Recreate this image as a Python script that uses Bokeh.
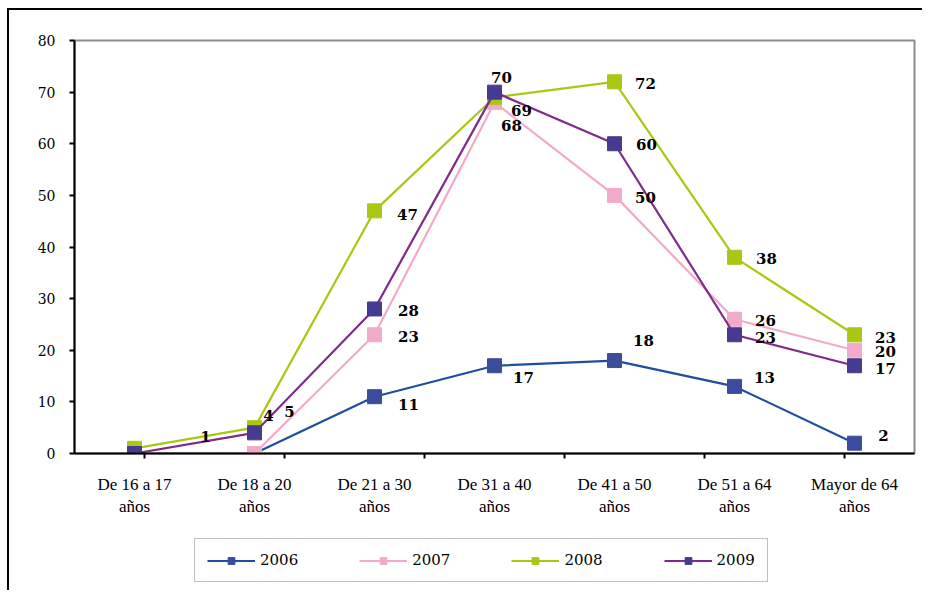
from bokeh.plotting import figure
from bokeh.models import (FactorRange, Range1d, LinearAxis, CategoricalAxis, FixedTicker,
                          Legend, LegendItem, ColumnDataSource)
from bokeh.layouts import column
from bokeh.core.properties import value
from bokeh.embed import file_html
from bokeh.resources import INLINE

categories = ["De 16 a 17\naños", "De 18 a 20\naños", "De 21 a 30\naños", "De 31 a 40\naños",
              "De 41 a 50\naños", "De 51 a 64\naños", "Mayor de 64\naños"]
years = ["2006", "2007", "2008", "2009"]
v2006 = [0, 0, 11, 17, 18, 13, 2]
v2007 = [0, 0, 23, 68, 50, 26, 20]
v2008 = [1, 5, 47, 69, 72, 38, 23]
v2009 = [0, 4, 28, 70, 60, 23, 17]
y_ticks = [0, 10, 20, 30, 40, 50, 60, 70, 80]

series = [v2006, v2007, v2008, v2009]
# which points carry a data label
shown = [
    [False, False, True, True, True, True, True],
    [False, False, True, True, True, True, True],
    [True, True, True, True, True, True, True],
    [False, True, True, True, True, True, True],
]
# label offsets in screen pixels (dx right, dy down)
label_dx = [
    [0, 0, 34, 29, 29, 30, 29],
    [0, 0, 34, 17, 31, 31, 31],
    [71, 35, 33, 27, 31, 32, 31],
    [0, 14, 34, 7, 32, 31, 31],
]
label_dy = [
    [0, 0, 8, 12, -20, -9, -8],
    [0, 0, 2, 23, 2, 1, 1],
    [-12, -16, 4, 13, 2, 1, 3],
    [0, -17, 2, -15, 1, 3, 3],
]
line_colors = ["#1F4E9C", "#F4A9C8", "#A8C811", "#7E2B8C"]
marker_colors = ["#3A4C9C", "#F2AACB", "#A9C713", "#463A91"]

FONT = "DejaVu Serif"

p = figure(width=913, height=510, x_range=FactorRange(*categories, range_padding=0),
           y_range=Range1d(0, 80), output_backend="svg", toolbar_location=None,
           x_axis_location=None, y_axis_location=None,
           min_border_left=65, min_border_right=8, min_border_top=30, min_border_bottom=67)
p.xgrid.visible = False
p.ygrid.visible = False
p.outline_line_color = "#8C8C8C"
p.outline_line_width = 2
p.background_fill_color = "white"
p.border_fill_color = "white"

# y axis
yaxis = LinearAxis(ticker=FixedTicker(ticks=y_ticks))
yaxis.axis_line_width = 2
yaxis.axis_line_color = "black"
yaxis.major_tick_line_width = 2
yaxis.major_tick_in = 0
yaxis.major_tick_out = 5
yaxis.minor_tick_line_color = None
yaxis.major_label_standoff = 14
yaxis.major_label_text_font = FONT
yaxis.major_label_text_font_size = "14px"
yaxis.major_label_text_color = "black"
p.add_layout(yaxis, "left")

# x axis ticks at category boundaries: a factor range whose factor centres fall on the boundaries
bounds = ["b%d" % k for k in range(len(categories) + 1)]
p.extra_x_ranges = {"bounds": FactorRange(*bounds, range_padding=-1, range_padding_units="absolute")}
tick_axis = CategoricalAxis(x_range_name="bounds")
tick_axis.axis_line_width = 2
tick_axis.axis_line_color = "black"
tick_axis.major_tick_line_width = 2
tick_axis.major_tick_in = 0
tick_axis.major_tick_out = 5
tick_axis.major_label_text_font_size = "0px"
tick_axis.major_label_text_color = None
tick_axis.major_label_standoff = 0
p.add_layout(tick_axis, "below")

xaxis = CategoricalAxis()
xaxis.axis_line_color = None
xaxis.major_tick_line_color = None
xaxis.major_tick_out = 0
xaxis.major_tick_in = 0
xaxis.major_label_standoff = 16
xaxis.major_label_text_font = "Liberation Serif"
xaxis.major_label_text_font_size = "17px"
xaxis.major_label_text_color = "black"
xaxis.major_label_text_line_height = 1.2
p.add_layout(xaxis, "below")

for i, (yr, vals) in enumerate(zip(years, series)):
    src = ColumnDataSource(dict(x=categories, y=vals))
    p.line("x", "y", source=src, line_color=line_colors[i], line_width=2.2)
    p.scatter("x", "y", source=src, marker="square", size=14,
              fill_color=marker_colors[i], line_color=marker_colors[i], line_width=1)

for i, (yr, vals) in enumerate(zip(years, series)):
    src = ColumnDataSource(dict(x=categories, y=vals,
                                lab=[str(v) if s else "" for v, s in zip(vals, shown[i])],
                                dx=label_dx[i], dy=label_dy[i]))
    p.text("x", "y", text="lab", source=src, x_offset="dx", y_offset="dy",
           text_font=value(FONT), text_font_style="bold", text_font_size="15px",
           text_color="black", text_align="center", text_baseline="middle")

# legend strip: a canvas under the chart whose y range sits far above the data,
# so its series renderers only serve as legend glyphs
lf = figure(width=913, height=70, x_range=FactorRange(*categories, range_padding=0),
            y_range=Range1d(1000, 1001),
            output_backend="svg", toolbar_location=None,
            x_axis_location=None, y_axis_location=None,
            min_border_left=0, min_border_right=0, min_border_top=0, min_border_bottom=0)
lf.xgrid.visible = False
lf.ygrid.visible = False
lf.outline_line_color = None
lf.border_fill_color = "white"
lf.background_fill_color = "white"
items = []
for i, (yr, vals) in enumerate(zip(years, series)):
    src = ColumnDataSource(dict(x=categories, y=vals))
    ln = lf.line("x", "y", source=src, line_color=line_colors[i], line_width=2.2)
    mk = lf.scatter("x", "y", source=src, marker="square", size=14,
                    fill_color=marker_colors[i], line_color=marker_colors[i], line_width=1)
    items.append(LegendItem(label=yr, renderers=[ln, mk]))

legend = Legend(items=items, orientation="horizontal", location=(120, 8))
legend.border_line_color = "#7F7F7F"
legend.border_line_width = 1.5
legend.background_fill_color = "white"
legend.background_fill_alpha = 1
legend.padding = 12
legend.spacing = 61
legend.glyph_width = 48
legend.glyph_height = 17
legend.label_standoff = 5
legend.label_text_font = FONT
legend.label_text_font_size = "15px"
legend.label_text_color = "black"
legend.margin = 0
lf.add_layout(legend, "center")

page = column(p, lf, spacing=0)
page.styles = {"border-left": "2px solid #000", "border-top": "2px solid #000",
               "margin-left": "7px", "margin-top": "8px"}

open("out.html", "w").write(file_html(page, INLINE))
